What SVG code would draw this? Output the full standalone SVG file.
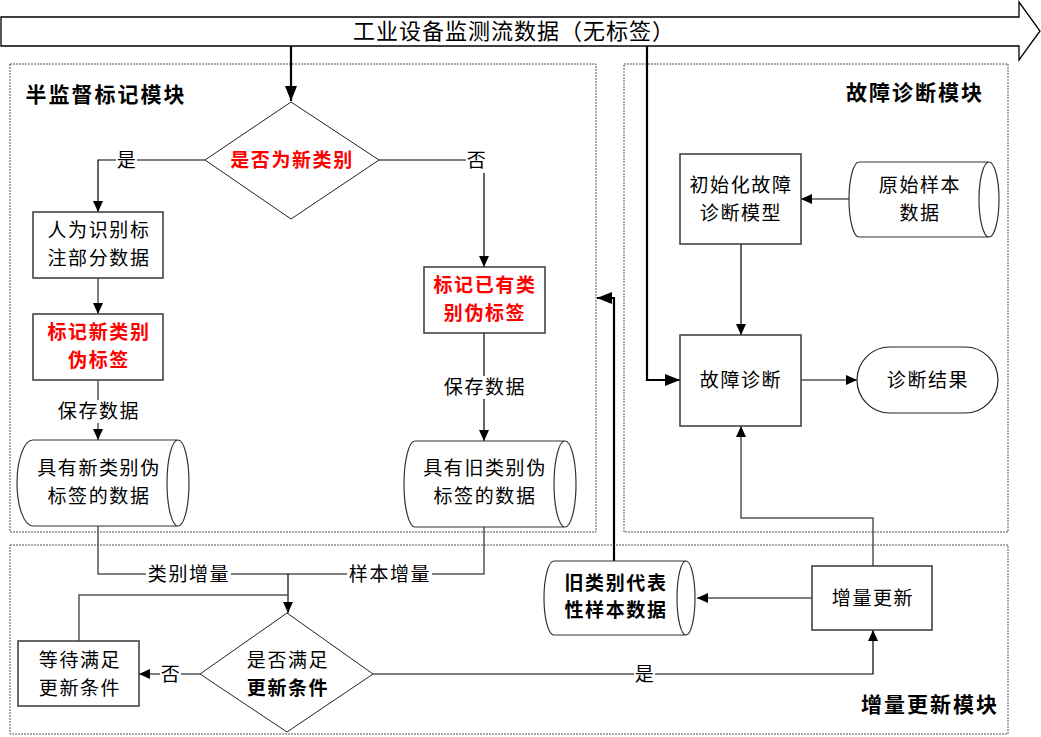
<svg xmlns="http://www.w3.org/2000/svg" width="1041" height="737" viewBox="0 0 1041 737">
<defs>
<marker id="ah" markerUnits="userSpaceOnUse" markerWidth="12" markerHeight="10" refX="11" refY="5" orient="auto"><path d="M0,0 L11,5 L0,10 Z" fill="#000"/></marker>
<marker id="ahb" markerUnits="userSpaceOnUse" markerWidth="16" markerHeight="12" refX="15" refY="6" orient="auto"><path d="M0,0 L15,6 L0,12 Z" fill="#000"/></marker>
<style>
text{font-family:"Noto Sans CJK SC","Noto Sans",sans-serif;fill:#000;text-anchor:middle;dominant-baseline:central;transform:translateY(-2px)}
.t{font-size:19px;letter-spacing:1.6px}
.b{font-weight:bold}
.red{fill:#ff0000;font-weight:bold}
.title{font-size:21px;font-weight:bold;letter-spacing:2px}
.mod{fill:none;stroke:#555;stroke-width:1;stroke-dasharray:2,1}
.box{fill:#fff;stroke:#444;stroke-width:1.6}
.dia{fill:#fff;stroke:#222;stroke-width:1}
.cyl{fill:#fff;stroke:#333;stroke-width:1.2}
.ln{fill:none;stroke:#000;stroke-width:1.2}
.lg{fill:none;stroke:#555;stroke-width:1.5}
.th{fill:none;stroke:#000;stroke-width:2.2}
.bg{fill:#fff}
</style>
</defs>

<g id="modules">
<rect class="mod" x="10" y="64" width="586" height="468"/>
<rect class="mod" x="624" y="64" width="384" height="468"/>
<rect class="mod" x="10" y="545" width="998" height="189"/>
<text class="title" x="106" y="95">半监督标记模块</text>
<text class="title" x="915" y="93">故障诊断模块</text>
<text class="title" x="930" y="705">增量更新模块</text>
</g>

<g id="stream">
<polygon points="1,17 1019,17 1019,2 1040,31 1019,60 1019,46 1,46" fill="#fff" stroke="#000" stroke-width="1.3"/>
<text x="514" y="31" style="font-size:22px;letter-spacing:1px">工业设备监测流数据（无标签）</text>
</g>

<g id="connectors">
<path class="th" d="M291,46 V101" marker-end="url(#ahb)"/>
<path class="th" d="M647,46 V380 H680" marker-end="url(#ahb)"/>
<path class="ln" d="M205,160 H98 V212" marker-end="url(#ah)"/>
<path class="lg" d="M98,278 V314" marker-end="url(#ah)"/>
<path class="lg" d="M98,380 V440" marker-end="url(#ah)"/>
<path class="ln" d="M379,160 H484 V267" marker-end="url(#ah)"/>
<path class="ln" d="M484,333 V441" marker-end="url(#ah)"/>
<path class="lg" d="M98,526 V574 H288"/>
<path class="lg" d="M484,527 V574 H288"/>
<path class="ln" d="M288,574 V613" marker-end="url(#ah)"/>
<path class="lg" d="M79,641 V595 H288"/>
<path class="ln" d="M200,674 H139" marker-end="url(#ah)"/>
<path class="ln" d="M373,674 H873 V630" marker-end="url(#ah)"/>
<path class="ln" d="M812,598 H697" marker-end="url(#ah)"/>
<path class="th" d="M614,561 V298 H597" marker-end="url(#ahb)"/>
<path class="lg" d="M873,566 V518 H741 V426" marker-end="url(#ah)"/>
<path class="ln" d="M849,199 H801" marker-end="url(#ah)"/>
<path class="ln" d="M741,244 V335" marker-end="url(#ah)"/>
<path class="ln" d="M801,380 H857" marker-end="url(#ah)"/>
<rect class="bg" x="116" y="149" width="21" height="22"/>
<text class="t" x="127" y="160">是</text>
<rect class="bg" x="466" y="149" width="21" height="24"/>
<text class="t" x="477" y="160">否</text>
<rect class="bg" x="56" y="400" width="84" height="23"/>
<text class="t" x="99" y="411">保存数据</text>
<rect class="bg" x="442" y="376" width="84" height="23"/>
<text class="t" x="485" y="387">保存数据</text>
<rect class="bg" x="146" y="563" width="85" height="23"/>
<text class="t" x="189" y="574">类别增量</text>
<rect class="bg" x="347" y="563" width="85" height="23"/>
<text class="t" x="390" y="574">样本增量</text>
<rect class="bg" x="160" y="663" width="21" height="22"/>
<text class="t" x="171" y="674">否</text>
<rect class="bg" x="634" y="663" width="21" height="22"/>
<text class="t" x="645" y="674">是</text>
</g>

<g id="n-isnew">
<polygon class="dia" points="291,102 379,160 291,219 205,160"/>
<text class="t red" x="292" y="160">是否为新类别</text>
</g>

<g id="n-manual">
<rect class="box" x="33" y="212" width="130" height="66"/>
<text class="t" x="99" y="230">人为识别标</text>
<text class="t" x="99" y="258">注部分数据</text>
</g>

<g id="n-newlabel">
<rect class="box" x="33" y="314" width="130" height="66"/>
<text class="t red" x="99" y="332">标记新类别</text>
<text class="t red" x="99" y="360">伪标签</text>
</g>

<g id="n-newdata">
<path class="cyl" d="M33,440 H178 A11,43 0 0 1 178,526 H33 A16,43 0 0 1 33,440 Z M178,440 A11,43 0 0 0 178,526"/>
<text class="t" x="99" y="468">具有新类别伪</text>
<text class="t" x="99" y="496">标签的数据</text>
</g>

<g id="n-oldlabel">
<rect class="box" x="424" y="267" width="121" height="66"/>
<text class="t red" x="485" y="285">标记已有类</text>
<text class="t red" x="485" y="313">别伪标签</text>
</g>

<g id="n-olddata">
<path class="cyl" d="M415,441 H565 A11,43 0 0 1 565,527 H415 A11,43 0 0 1 415,441 Z M565,441 A11,43 0 0 0 565,527"/>
<text class="t" x="485" y="468">具有旧类别伪</text>
<text class="t" x="485" y="496">标签的数据</text>
</g>

<g id="n-init">
<rect class="box" x="680" y="154" width="121" height="90"/>
<text class="t" x="741" y="185">初始化故障</text>
<text class="t" x="741" y="213">诊断模型</text>
</g>

<g id="n-raw">
<path class="cyl" d="M859,162 H989 A10,37.5 0 0 1 989,237 H859 A10,37.5 0 0 1 859,162 Z M989,162 A10,37.5 0 0 0 989,237"/>
<text class="t" x="920" y="185">原始样本</text>
<text class="t" x="920" y="213">数据</text>
</g>

<g id="n-diag">
<rect class="box" x="680" y="335" width="121" height="91"/>
<text class="t" x="741" y="380">故障诊断</text>
</g>

<g id="n-result">
<rect x="857" y="347" width="141" height="66" rx="33" ry="33" fill="#fff" stroke="#222" stroke-width="1.2"/>
<text class="t" x="928" y="380">诊断结果</text>
</g>

<g id="n-check">
<polygon class="dia" points="287,613 373,674 287,732 200,674"/>
<text class="t" x="288" y="660">是否满足</text>
<text class="t b" x="288" y="688">更新条件</text>
</g>

<g id="n-wait">
<rect class="box" x="18" y="641" width="121" height="65"/>
<text class="t" x="80" y="660">等待满足</text>
<text class="t" x="80" y="688">更新条件</text>
</g>

<g id="n-update">
<rect class="box" x="812" y="566" width="120" height="64"/>
<text class="t" x="873" y="598">增量更新</text>
</g>

<g id="n-repr">
<path class="cyl" d="M554,561 H686 A9,37 0 0 1 686,635 H554 A10,37 0 0 1 554,561 Z M686,561 A9,37 0 0 0 686,635"/>
<text class="t b" x="616" y="583">旧类别代表</text>
<text class="t b" x="616" y="610">性样本数据</text>
</g>
</svg>
